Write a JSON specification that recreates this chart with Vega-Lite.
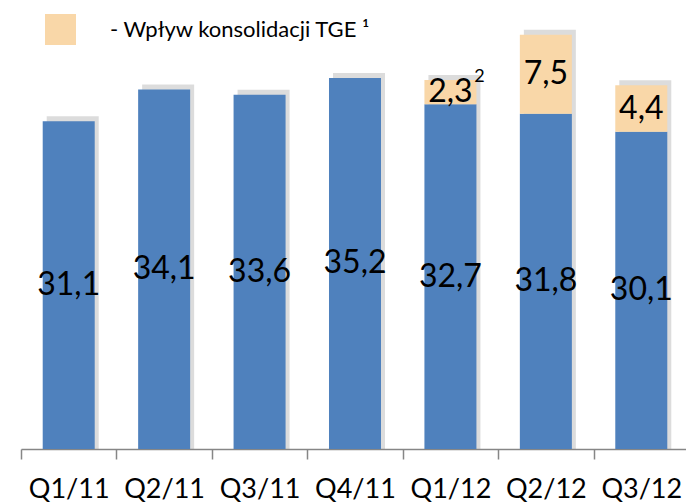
{
  "$schema": "https://vega.github.io/schema/vega-lite/v6.json",
  "autosize": "none",
  "width": 668,
  "height": 449,
  "padding": {"left": 21, "top": 0, "right": 0, "bottom": 55},
  "config": {
    "font": "Lato",
    "view": {"stroke": null},
    "locale": {"number": {"decimal": ",", "thousands": " ", "grouping": [3], "currency": ["", " zł"]}}
  },
  "data": {
    "values": [
      {"q": "Q1/11", "series": "Bez TGE", "v": 31.1},
      {"q": "Q2/11", "series": "Bez TGE", "v": 34.1},
      {"q": "Q3/11", "series": "Bez TGE", "v": 33.6},
      {"q": "Q4/11", "series": "Bez TGE", "v": 35.2},
      {"q": "Q1/12", "series": "Bez TGE", "v": 32.7},
      {"q": "Q1/12", "series": "TGE", "v": 2.3},
      {"q": "Q2/12", "series": "Bez TGE", "v": 31.8},
      {"q": "Q2/12", "series": "TGE", "v": 7.5},
      {"q": "Q3/12", "series": "Bez TGE", "v": 30.1},
      {"q": "Q3/12", "series": "TGE", "v": 4.4}
    ]
  },
  "encoding": {
    "x": {
      "field": "q",
      "type": "nominal",
      "sort": null,
      "scale": {"paddingInner": 0, "paddingOuter": 0},
      "axis": {
        "title": null,
        "labelAngle": 0,
        "tickBand": "extent",
        "tickSize": 10,
        "tickColor": "#868686",
        "domainColor": "#868686",
        "tickWidth": 1.5,
        "domainWidth": 1.5,
        "labelFontSize": 27,
        "labelColor": "#000000",
        "labelBaseline": "alphabetic",
        "labelPadding": 38
      }
    }
  },
  "layer": [
    {
      "mark": {"type": "bar", "width": {"band": 0.545}, "color": "#8c8c8c", "opacity": 0.3, "xOffset": 4, "yOffset": -5},
      "encoding": {
        "y": {"aggregate": "sum", "field": "v", "type": "quantitative", "scale": {"domain": [0, 42.6], "nice": false, "zero": true}, "axis": null}
      }
    },
    {
      "mark": {"type": "bar", "width": {"band": 0.545}},
      "encoding": {
        "y": {"field": "v", "type": "quantitative", "stack": "zero", "axis": null},
        "color": {
          "field": "series",
          "type": "nominal",
          "scale": {"domain": ["Bez TGE", "TGE"], "range": ["#4F81BD", "#F9D7A8"]},
          "legend": {
            "values": ["TGE"],
            "title": null,
            "orient": "none",
            "legendX": 24,
            "legendY": 14,
            "padding": 0,
            "symbolType": "square",
            "symbolSize": 961,
            "symbolStrokeWidth": 0,
            "labelOffset": 34,
            "labelFontSize": 22,
            "labelLimit": 500,
            "labelColor": "#000000",
            "labelExpr": "'- Wpływ konsolidacji TGE ¹'"
          }
        },
        "order": {"field": "series"}
      }
    },
    {
      "transform": [
        {"stack": "v", "groupby": ["q"], "sort": [{"field": "series"}], "as": ["v0", "v1"]},
        {"fold": ["v0", "v1"], "as": ["edge", "pos"]}
      ],
      "mark": {"type": "text", "baseline": "middle", "align": "center", "fontSize": 32, "color": "#000000"},
      "encoding": {
        "y": {"aggregate": "mean", "field": "pos", "type": "quantitative"},
        "detail": {"field": "series"},
        "text": {"aggregate": "max", "field": "v", "type": "quantitative", "format": ".1f"}
      }
    },
    {
      "transform": [
        {"stack": "v", "groupby": ["q"], "sort": [{"field": "series"}], "as": ["v0", "v1"]},
        {"filter": "datum.q == 'Q1/12' && datum.series == 'TGE'"}
      ],
      "mark": {"type": "text", "text": "2", "baseline": "middle", "align": "center", "fontSize": 18, "color": "#000000", "dx": 29, "dy": -3},
      "encoding": {
        "y": {"field": "v1", "type": "quantitative"}
      }
    }
  ]
}
